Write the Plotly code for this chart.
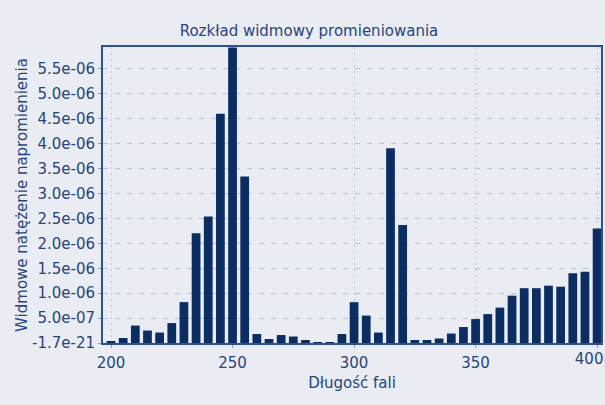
import plotly.graph_objects as go

wavelengths = list(range(200, 401, 5))
intensity = [
    0.03e-6, 0.10e-6, 0.35e-6, 0.25e-6, 0.21e-6, 0.40e-6, 0.82e-6, 2.20e-6, 2.54e-6, 4.60e-6,
    5.93e-6, 3.34e-6, 0.18e-6, 0.08e-6, 0.16e-6, 0.13e-6, 0.06e-6, 0.01e-6, 0.01e-6, 0.18e-6,
    0.82e-6, 0.55e-6, 0.21e-6, 3.91e-6, 2.37e-6, 0.06e-6, 0.06e-6, 0.09e-6, 0.19e-6, 0.32e-6,
    0.48e-6, 0.58e-6, 0.71e-6, 0.95e-6, 1.10e-6, 1.10e-6, 1.15e-6, 1.13e-6, 1.40e-6, 1.43e-6,
    2.30e-6,
]
y_tick_vals = [0, 0.5e-6, 1.0e-6, 1.5e-6, 2.0e-6, 2.5e-6, 3.0e-6, 3.5e-6, 4.0e-6, 4.5e-6, 5.0e-6, 5.5e-6]
y_tick_text = ["-1.7e-21", "5.0e-07", "1.0e-06", "1.5e-06", "2.0e-06", "2.5e-06",
               "3.0e-06", "3.5e-06", "4.0e-06", "4.5e-06", "5.0e-06", "5.5e-06"]
x_tick_vals = [200, 250, 300, 350, 400]
x_tick_text = ["200", "250", "300", "350", ""]
x_last_tick = [400]
x_last_text = ["400"]

text_color = "#27457C"
bg = "#E9ECF3"
font_family = "DejaVu Sans, Verdana, sans-serif"
x_range = [196.7, 401.6]

fig = go.Figure()
fig.add_trace(go.Bar(x=wavelengths, y=intensity, width=3.6,
                     marker=dict(color="#0B2D62", line=dict(width=0))))
# empty helper trace so the overlay axis carrying the shifted "400" label is drawn
fig.add_trace(go.Scatter(x=[], y=[], xaxis="x2", yaxis="y", mode="markers",
                         hoverinfo="skip", showlegend=False))

fig.update_layout(
    width=605, height=405,
    paper_bgcolor=bg, plot_bgcolor=bg,
    margin=dict(l=103, r=4, t=47, b=62, autoexpand=False),
    showlegend=False,
    font=dict(family=font_family, size=15, color=text_color),
    title=dict(text="Rozkład widmowy promieniowania", x=309 / 605, xanchor="center",
               y=1 - 31 / 405, yanchor="middle", font=dict(size=15, color=text_color)),
    xaxis2=dict(
        overlaying="x", anchor="y", side="bottom", range=x_range,
        tickvals=x_last_tick, ticktext=x_last_text, ticks="", showgrid=False,
        showline=False, zeroline=False, ticklabelshift=-8, ticklabelstandoff=5,
        ticklabeloverflow="allow", automargin=False,
        tickfont=dict(family=font_family, size=15, color=text_color),
    ),
)
fig.layout.xaxis.update(
    range=x_range, tickvals=x_tick_vals, ticktext=x_tick_text,
    ticks="outside", ticklen=3, ticklabeloverflow="allow", ticklabelstandoff=2,
    tickcolor="#8899BB", automargin=False,
    showline=True, linecolor="#2F5089", linewidth=2, mirror=True,
    showgrid=True, gridcolor="#B9C3D7", griddash="2px,4px", gridwidth=1,
    zeroline=False,
    title=dict(text="Długość fali", standoff=6, font=dict(size=15, color=text_color)),
)
fig.layout.yaxis.update(
    range=[0, 5.94e-6], tickvals=y_tick_vals, ticktext=y_tick_text,
    ticks="outside", ticklen=3, tickcolor="#8899BB", automargin=False,
    showline=True, linecolor="#2F5089", linewidth=2, mirror=True,
    showgrid=True, gridcolor="#B9C3D7", griddash="5px,7px", gridwidth=1,
    zeroline=False,
    title=dict(text="Widmowe natężenie napromienienia", standoff=1,
               font=dict(size=15, color=text_color)),
)
fig.write_html(
    "out.html",
    config={"displayModeBar": False},
    post_script="document.body.style.margin='0';document.body.style.background='#E9ECF3';",
)
